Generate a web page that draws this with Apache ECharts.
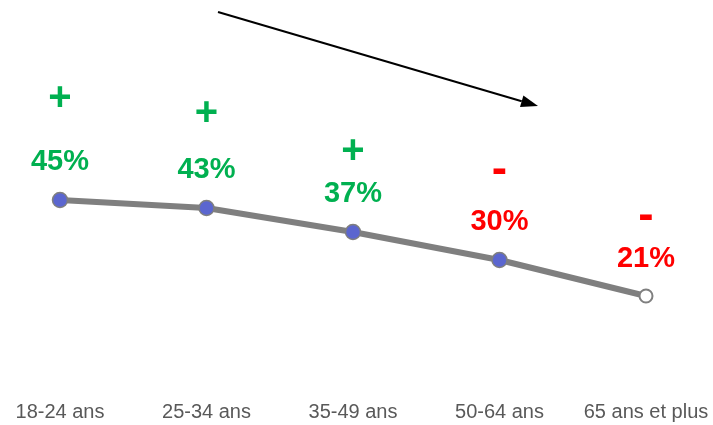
<!DOCTYPE html>
<html>
<head>
<meta charset="utf-8">
<script src="https://cdn.jsdelivr.net/npm/echarts@6/dist/echarts.min.js"></script>
<style>
html,body{margin:0;padding:0;background:#fff;}
#chart{width:713px;height:425px;}
</style>
</head>
<body>
<div id="chart"></div>
<script>
// Data
var categories = ['18-24 ans', '25-34 ans', '35-49 ans', '50-64 ans', '65 ans et plus'];
var values = [45, 43, 37, 30, 21];
var signs = ['+', '+', '+', '-', '-'];

// Styling (not data)
var signColors = { '+': '#00B050', '-': '#FF0000' };
var signSizes = { '+': 40, '-': 46 };
var signOffsets = [101, 94, 80, 89, 79];

var chart = echarts.init(document.getElementById('chart'), null, { renderer: 'canvas' });

var mainData = values.map(function (v, i) {
  var isLast = i === values.length - 1;
  return {
    value: v,
    itemStyle: isLast ? { color: '#ffffff', borderColor: '#7f7f7f', borderWidth: 2 } : undefined,
    symbolSize: isLast ? 13 : 15,
    label: { color: signColors[signs[i]] }
  };
});

var signData = values.map(function (v, i) {
  return {
    value: v,
    label: { offset: [0, -signOffsets[i]], color: signColors[signs[i]], fontSize: signSizes[signs[i]] }
  };
});

var tip = [538, 106], base = [521.7, 101.2];

chart.setOption({
  animation: false,
  grid: { left: 60, right: 67, top: 20, bottom: 45, containLabel: false },
  xAxis: {
    type: 'category',
    data: categories,
    boundaryGap: false,
    axisLine: { show: false },
    axisTick: { show: false },
    axisLabel: {
      color: '#595959',
      fontFamily: 'Liberation Sans, Arial, sans-serif',
      fontSize: 20,
      margin: 22,
      interval: 0
    },
    splitLine: { show: false }
  },
  yAxis: {
    type: 'value',
    min: 0,
    max: 90,
    show: false,
    splitLine: { show: false }
  },
  series: [
    {
      type: 'line',
      data: mainData,
      symbol: 'circle',
      symbolSize: 15,
      lineStyle: { color: '#7f7f7f', width: 6 },
      itemStyle: { color: '#5B66CF', borderColor: '#7f7f7f', borderWidth: 1.5 },
      label: {
        show: true,
        position: 'top',
        distance: 0,
        verticalAlign: 'middle',
        offset: [0, -30],
        fontFamily: 'Liberation Sans, Arial, sans-serif',
        fontWeight: 'bold',
        fontSize: 29,
        formatter: function (p) { return p.value + '%'; }
      },
      z: 3
    },
    {
      type: 'line',
      data: signData,
      symbol: 'circle',
      symbolSize: 1,
      lineStyle: { color: 'rgba(0,0,0,0)', width: 0 },
      itemStyle: { color: 'rgba(0,0,0,0)', borderWidth: 0 },
      label: {
        show: true,
        position: 'top',
        distance: 0,
        verticalAlign: 'middle',
        fontFamily: 'Liberation Sans, Arial, sans-serif',
        fontWeight: 'bold',
        fontSize: 40,
        formatter: function (p) { return signs[p.dataIndex]; }
      },
      z: 2
    }
  ],
  graphic: [
    {
      type: 'line',
      shape: { x1: 218, y1: 12, x2: base[0], y2: base[1] },
      style: { stroke: '#000', lineWidth: 2 }
    },
    {
      type: 'polygon',
      shape: { points: [tip, [520.0, 107.0], [523.4, 95.4]] },
      style: { fill: '#000' }
    }
  ]
});
</script>
</body>
</html>
